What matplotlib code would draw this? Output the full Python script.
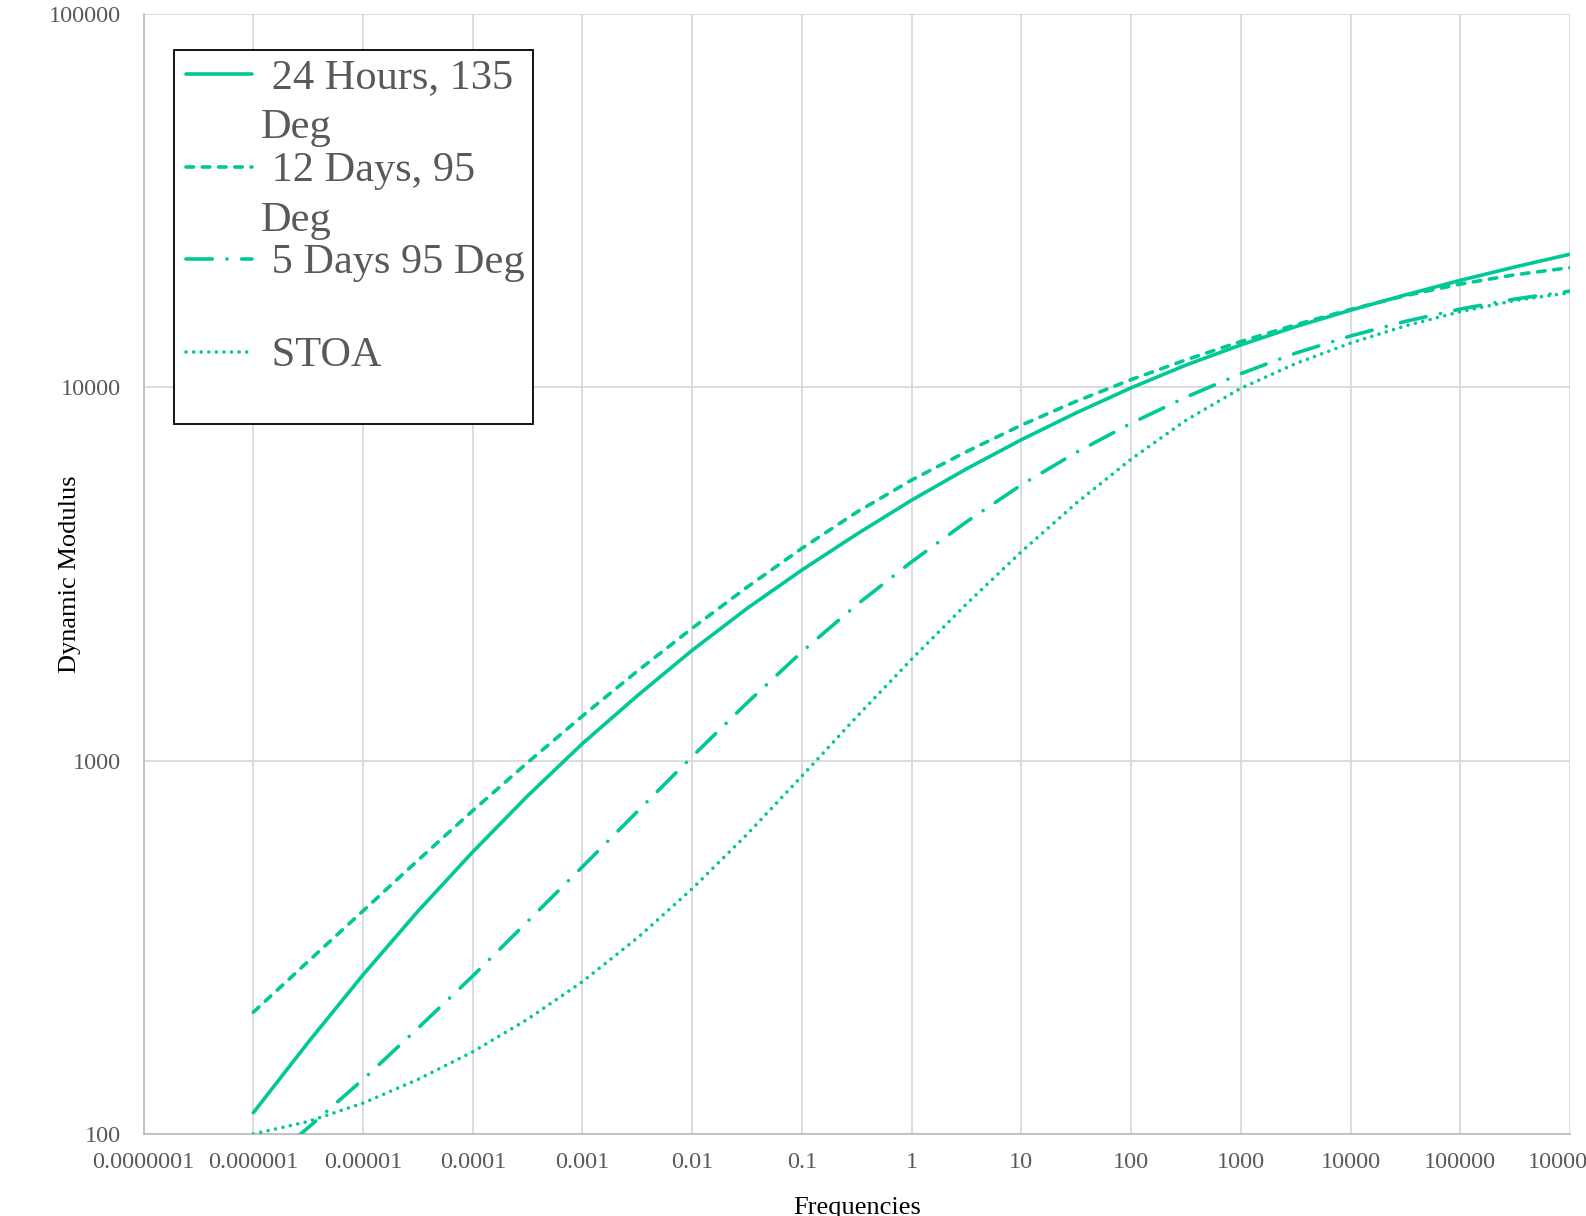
import numpy as np
import matplotlib
matplotlib.use("Agg")
import matplotlib.pyplot as plt
from matplotlib.font_manager import FontProperties
from matplotlib.ticker import FixedLocator, FixedFormatter, NullLocator

# ---------------- data ----------------
frequencies = [1e-06, 3.16e-06, 1e-05, 3.16e-05, 1e-04, 3.16e-04, 1e-03, 3.16e-03,
               1e-02, 3.16e-02, 0.1, 0.316, 1, 3.16, 10, 31.6, 100, 316, 1000, 3160,
               1e4, 3.16e4, 1e5, 3.16e5, 1e6]

hours24_135 = [114, 176, 267, 395, 570, 805, 1112, 1493, 1977, 2559, 3243, 4046, 4989,
               6053, 7244, 8551, 9977, 11482, 13002, 14555, 16106, 17701, 19364, 21038, 22751]
days12_95 = [212, 290, 396, 541, 735, 989, 1318, 1738, 2265, 2917, 3707, 4634, 5649,
             6730, 7925, 9183, 10495, 11858, 13274, 14723, 16181, 17620, 18923, 20045, 20941]
days5_95 = [78, 104, 140, 192, 265, 371, 520, 731, 1026, 1429, 1959, 2618, 3412,
            4365, 5483, 6699, 8017, 9419, 10889, 12359, 13740, 15031, 16218, 17258, 18113]
stoa = [100, 108, 121, 140, 166, 203, 256, 335, 454, 635, 910, 1312, 1871,
        2630, 3631, 4898, 6427, 8166, 9954, 11588, 13152, 14622, 15959, 17100, 17947]

series_labels = [" 24 Hours, 135\nDeg", " 12 Days, 95\nDeg", " 5 Days 95 Deg\n", " STOA\n"]

x_ticks = [1e-7, 1e-6, 1e-5, 1e-4, 1e-3, 1e-2, 1e-1, 1, 10, 100, 1000, 1e4, 1e5, 1e6]
x_tick_labels = ["0.0000001", "0.000001", "0.00001", "0.0001", "0.001", "0.01", "0.1",
                 "1", "10", "100", "1000", "10000", "100000", "1000000"]
y_ticks = [100, 1000, 10000, 100000]
y_tick_labels = ["100", "1000", "10000", "100000"]

x_title = "Frequencies"
y_title = "Dynamic Modulus"

# ---------------- style ----------------
COLOR = "#00C896"
SERIF = "Liberation Serif"
W, H, DPI = 1586, 1216, 100

fig = plt.figure(figsize=(W / DPI, H / DPI), dpi=DPI)
ax_l, ax_r, ax_b, ax_t = 143.6, 1570.0, 1134.0, 14.2
ax = fig.add_axes([ax_l / W, 1 - ax_b / H, (ax_r - ax_l) / W, (ax_b - ax_t) / H])

ax.set_xscale("log")
ax.set_yscale("log")
ax.set_xlim(1e-7, 1e6)
ax.set_ylim(100, 100000)

lw = 2.6
styles = [
    dict(linestyle="-", solid_capstyle="round", solid_joinstyle="round"),
    dict(linestyle=(0, (2.1, 2.4)), dash_capstyle="round"),
    dict(linestyle=(0, (7.3, 4.06, 0.001, 4.06)), dash_capstyle="round"),
    dict(linestyle=(0, (0.001, 2.1)), dash_capstyle="round"),
]
lines = []
for vals, lab, st in zip([hours24_135, days12_95, days5_95, stoa], series_labels, styles):
    ln, = ax.plot(frequencies, vals, color=COLOR, lw=lw, label=lab, zorder=3, **st)
    lines.append(ln)

# ticks & grid
ax.xaxis.set_major_locator(FixedLocator(x_ticks))
ax.xaxis.set_major_formatter(FixedFormatter(x_tick_labels))
ax.xaxis.set_minor_locator(NullLocator())
ax.yaxis.set_major_locator(FixedLocator(y_ticks))
ax.yaxis.set_major_formatter(FixedFormatter(y_tick_labels))
ax.yaxis.set_minor_locator(NullLocator())
ax.grid(True, which="major", color="#d9d9d9", lw=1.3, zorder=0)
ax.set_axisbelow(True)

for s in ["top", "right"]:
    ax.spines[s].set_visible(False)
for s in ["left", "bottom"]:
    ax.spines[s].set_color("#bfbfbf")
    ax.spines[s].set_linewidth(1.3)

ax.tick_params(axis="both", length=0, labelcolor="#595959", labelsize=17.5)
ax.tick_params(axis="x", pad=13)
ax.tick_params(axis="y", pad=16)
for t in ax.get_xticklabels() + ax.get_yticklabels():
    t.set_fontfamily(SERIF)

ax.set_xlabel(x_title, fontsize=19, family=SERIF, color="black")
ax.set_ylabel(y_title, fontsize=19, family=SERIF, color="black")
ax.xaxis.label.set_va("center")
ax.yaxis.label.set_va("center")
ax.xaxis.set_label_coords(0.5, (ax_b - 1208) / (ax_b - ax_t))
ax.yaxis.set_label_coords((70 - ax_l) / (ax_r - ax_l), 0.5)

# ---------------- legend ----------------
leg_fs = 30.5
leg_fp = FontProperties(family=SERIF, size=leg_fs)
leg = ax.legend(lines, series_labels, loc="upper left",
                bbox_to_anchor=((174 - ax_l) / (ax_r - ax_l), (ax_b - 50) / (ax_b - ax_t)),
                borderaxespad=0, prop=leg_fp, handlelength=1.65, handletextpad=0.2,
                labelspacing=0.1, borderpad=0.2, frameon=True, fancybox=False,
                edgecolor="black", facecolor="white", framealpha=1, labelcolor="#595959")
leg.get_frame().set_linewidth(1.3)
texts = leg.get_texts()
for t in texts:
    t.set_linespacing(1.39)
texts[-1].set_linespacing(1.05)

# align each legend line with the first line of its (wrapped) label
fig.canvas.draw()
renderer = fig.canvas.get_renderer()
left_trim_pts = 4.0 * 72.0 / DPI
for hdl, txt in zip(leg.legend_handles, texts):
    bb = txt.get_window_extent(renderer)
    _, lh, ld = renderer.get_text_width_height_descent("lp", txt.get_fontproperties(),
                                                       ismath=False)
    first_base = bb.y1 - (lh - ld)
    target = first_base + 0.33 * txt.get_fontsize() * DPI / 72.0
    yd = np.asarray(hdl.get_ydata(), float)
    xd = np.asarray(hdl.get_xdata(), float).copy()
    ycur = hdl.get_transform().transform([(xd[0], yd[0])])[0][1]
    hdl.set_ydata(yd + (target - ycur) * 72.0 / DPI)
    xd[0] += left_trim_pts
    hdl.set_xdata(xd)

fig.savefig("out.png", dpi=DPI)
